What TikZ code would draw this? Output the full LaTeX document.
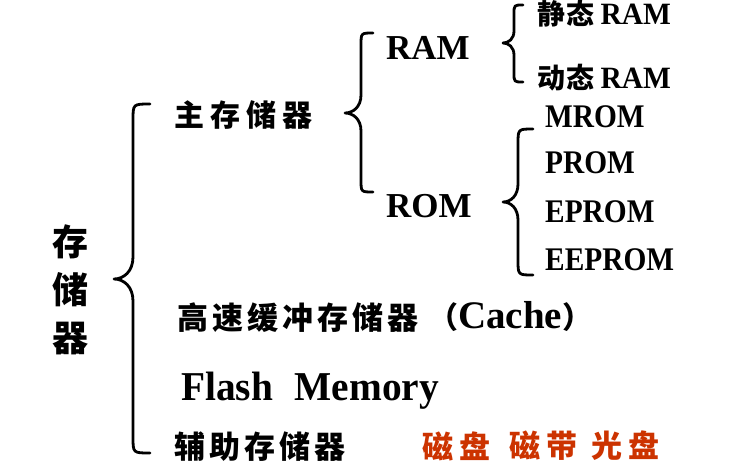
\documentclass[tikz,border=0pt]{standalone}
\usepackage{fontspec}
\usepackage{graphicx}
\setmainfont{Liberation Serif}
\newfontfamily\cjk{Noto Sans CJK SC}
\definecolor{diskred}{HTML}{CC3300}
\newcommand{\fs}[1]{\fontsize{#1}{#1}\selectfont}
\tikzset{
  bracestyle/.style={line width=2.8pt, line cap=round, line join=round},
  lat/.style={anchor=base west, inner sep=0pt, font=\bfseries},
  zh/.style={anchor=west, inner sep=0pt},
}
% curly brace: xend, ytop, ybot, xvert, xtip, ytip, hook, tiplen
\newcommand{\cbrace}[8]{%
  \draw[bracestyle] (#1,#2) .. controls (#4,#2) .. (#4,{#2+#7})
    -- (#4,{#6-#8}) .. controls (#4,{#6-#8/3}) and ({(#4+#5)/2},#6) .. (#5,#6)
    .. controls ({(#4+#5)/2},#6) and (#4,{#6+#8/3}) .. (#4,{#6+#8})
    -- (#4,{#3-#7}) .. controls (#4,#3) .. (#1,#3);
}
\begin{document}
\begin{tikzpicture}[x=1pt,y=-1pt]
\fill[white] (0,0) rectangle (738,471);
\useasboundingbox (0,0) rectangle (738,471);

% braces
\cbrace{150}{104}{453}{133}{114}{279}{16}{22}
\cbrace{373}{33}{192}{361}{345}{113}{12}{18}
\cbrace{523}{5}{82}{514}{503}{43}{9}{12}
\cbrace{533}{129}{275}{518}{503}{202}{15}{18}

% root
\node[inner sep=0pt, align=center, font=\cjk\bfseries\fontsize{36}{48}\selectfont] (store) at (70,290) {存\\储\\器};

% level 1
\node[zh, font=\cjk\bfseries\fs{30}\addfontfeatures{LetterSpace=20}] (main) at (174,115) {主存储器};
\node[zh, font=\cjk\bfseries\fs{31}\addfontfeatures{LetterSpace=13}] (cachezh) at (177,318) {高速缓冲存储器};
\node[lat, font=\bfseries\fs{39}] (cache) at (428,328) {{\cjk\fs{30}（}Cache{\cjk\fs{30}）}};
\node[lat, font=\bfseries\fs{41}] (flash) at (181,400) {\scalebox{0.96}[1]{Flash\hspace{0.55em}Memory}};
\node[zh, font=\cjk\bfseries\fs{31}\addfontfeatures{LetterSpace=13}] (aux) at (174,447) {辅助存储器};
\node[zh, text=diskred, font=\cjk\bfseries\fs{31}\addfontfeatures{LetterSpace=19}] (disk) at (422,446) {磁盘};
\node[zh, text=diskred, font=\cjk\bfseries\fs{31}\addfontfeatures{LetterSpace=19}] (tape) at (509,446) {磁带};
\node[zh, text=diskred, font=\cjk\bfseries\fs{31}\addfontfeatures{LetterSpace=19}] (optical) at (591,446) {光盘};

% level 2
\node[lat, font=\bfseries\fs{35}] (ram) at (386,59) {RAM};
\node[lat, font=\bfseries\fs{35}] (rom) at (386,217) {ROM};

% level 3
\node[lat] (sram) at (537,24) {{\cjk\fs{28}\addfontfeatures{LetterSpace=5}静态}\hspace{6pt}{\fs{31}\scalebox{0.95}[1]{RAM}}};
\node[lat] (dram) at (537,88) {{\cjk\fs{28}\addfontfeatures{LetterSpace=5}动态}\hspace{6pt}{\fs{31}\scalebox{0.95}[1]{RAM}}};
\node[lat, font=\bfseries\fs{33}] (mrom) at (545,127) {\scalebox{0.89}[1]{MROM}};
\node[lat, font=\bfseries\fs{33}] (prom) at (545,173) {\scalebox{0.89}[1]{PROM}};
\node[lat, font=\bfseries\fs{33}] (eprom) at (545,222) {\scalebox{0.89}[1]{EPROM}};
\node[lat, font=\bfseries\fs{33}] (eeprom) at (545,270) {\scalebox{0.89}[1]{EEPROM}};
\end{tikzpicture}
\end{document}
